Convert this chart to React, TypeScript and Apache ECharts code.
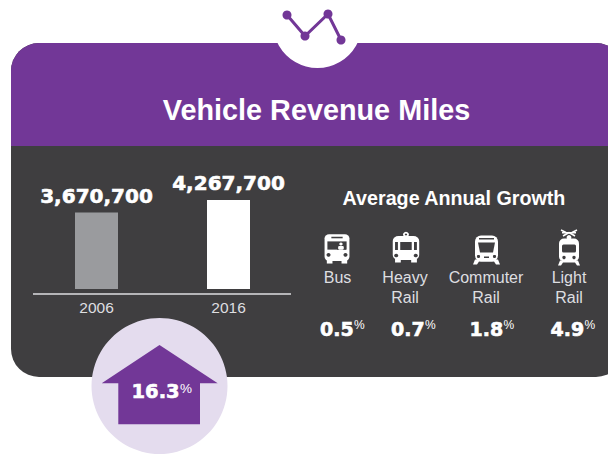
import React, { useEffect, useRef } from "react";
import * as echarts from "echarts";

const years = ["2006", "2016"];
const miles = [3670700, 4267700];
const barColors = ["#9a9b9e", "#ffffff"];
const modeLines = [["Bus"], ["Heavy", "Rail"], ["Commuter", "Rail"], ["Light", "Rail"]];
const growth = ["0.5", "0.7", "1.8", "4.9"];
const increase = "16.3";

const PURPLE = "#723797";
const DARK = "#3f3e40";
const LIGHT = "#dedee0";
const SANS = "'Liberation Sans', Arial, sans-serif";
const WIDE = "'DejaVu Sans', sans-serif";

const txt = (x: number, y: number, text: string, size: number, opts: any = {}) => ({
  type: "text", x, y, z: opts.z ?? 5,
  style: {
    text, fill: opts.fill ?? "#fff", fontSize: size, fontFamily: opts.family ?? SANS,
    fontWeight: opts.weight ?? "normal", align: opts.align ?? "center", verticalAlign: "middle",
    ...(opts.heavy ? { stroke: "#fff", lineWidth: opts.heavy } : {}),
  },
});
const r = (x: number, y: number, w: number, h: number, fill = "#fff", rad = 0) => ({
  type: "rect", shape: { x, y, width: w, height: h, r: rad }, style: { fill },
});
const c = (x: number, y: number, rad: number, fill = DARK) => ({
  type: "circle", shape: { cx: x, cy: y, r: rad }, style: { fill },
});
const poly = (points: number[][], fill = "#fff") => ({ type: "polygon", shape: { points }, style: { fill } });
const seg = (x1: number, y1: number, x2: number, y2: number, w = 1.5) => ({
  type: "line", shape: { x1, y1, x2, y2 }, style: { stroke: "#fff", lineWidth: w },
});

const busIcon = [
  r(9, 6, 22, 26, "#fff", 4), r(11, 31, 5, 3.5), r(24, 31, 5, 3.5),
  r(15, 8.5, 10, 1.5, DARK), r(11.5, 13, 17, 8, DARK), r(20, 15, 8, 6, DARK),
  c(23.5, 15.5, 1.5, "#fff"), r(21, 17.5, 5, 3.5, "#fff", 1), c(12.5, 26, 1.8), c(27.5, 26, 1.8),
];
const heavyIcon = [
  c(20.5, 6.5, 2.6, "#fff"), c(20.5, 6.5, 1, DARK), r(9, 8, 23, 24, "#fff", 5), r(11, 31, 5, 3.5), r(25, 31, 5, 3.5),
  r(11, 14, 2.5, 8, DARK), r(15.5, 14, 10, 8, DARK), r(27.5, 14, 2.5, 8, DARK), c(12, 27.5, 1.8), c(29, 27.5, 1.8),
];
const commuterIcon = [
  r(9, 7, 23, 26, "#fff", 6), poly([[9, 31], [32, 31], [34, 36], [30, 36], [28, 33], [13, 33], [11, 36], [7, 36]]),
  r(13, 9.5, 15, 1.5, DARK), poly([[12, 14], [29, 14], [27, 24], [14, 24]], DARK),
  c(12.5, 28, 1.6), c(28.5, 28, 1.6), r(18, 28, 5, 1.5, DARK),
];
const lightIcon = [
  seg(12, 2.5, 17, 5), seg(28, 2.5, 23, 5), r(13, 4.5, 14, 1.5), seg(14, 8.5, 20, 5), seg(26, 8.5, 20, 5),
  c(20, 10, 2.4, "#fff"), r(10, 11, 20, 23, "#fff", 5), poly([[11, 33], [29, 33], [31, 38], [28, 38], [26, 35], [14, 35], [12, 38], [9, 38]]),
  r(13, 17, 14, 8, DARK, 1.5), c(15, 30, 1.7), c(25, 30, 1.7),
];
const icons = [
  { x: 314.4, y: 228, scaleX: 1.13, scaleY: 1.03, children: busIcon },
  { x: 382.4, y: 228, scaleX: 1.15, scaleY: 1, children: heavyIcon },
  { x: 466, y: 228.5, scaleX: 1, scaleY: 1, children: commuterIcon },
  { x: 549, y: 227.5, scaleX: 1, scaleY: 1, children: lightIcon },
];
const modeCx = [337.5, 405, 486, 569];
const valueX = [320, 391, 469.5, 550.5];
const pctX = [354, 425, 503.5, 584.5];

export default function App() {
  const ref = useRef<HTMLDivElement>(null);
  useEffect(() => {
    const chart = echarts.init(ref.current!, undefined, { renderer: "svg" });
    const graphics: any[] = [
      { type: "rect", z: 0, shape: { x: 11, y: 43, width: 613, height: 334, r: 28 }, style: { fill: DARK } },
      { type: "rect", z: 0, shape: { x: 11, y: 43, width: 613, height: 103, r: [28, 28, 0, 0] }, style: { fill: PURPLE } },
      { type: "circle", z: 1, shape: { cx: 317.5, cy: 23.5, r: 44.5 }, style: { fill: "#fff" } },
      { type: "polyline", z: 2, shape: { points: [[287, 15], [305, 36], [328, 14], [341, 40]] }, style: { stroke: PURPLE, lineWidth: 3, fill: "none" } },
      { type: "circle", z: 2, shape: { cx: 287, cy: 15, r: 4.5 }, style: { fill: PURPLE } },
      { type: "circle", z: 2, shape: { cx: 305, cy: 36, r: 4.5 }, style: { fill: PURPLE } },
      { type: "circle", z: 2, shape: { cx: 328, cy: 14, r: 4.5 }, style: { fill: PURPLE } },
      { type: "circle", z: 2, shape: { cx: 341, cy: 40, r: 4.5 }, style: { fill: PURPLE } },
      txt(316.5, 110, "Vehicle Revenue Miles", 28.8, { weight: "bold" }),
      { type: "line", z: 2, shape: { x1: 33, y1: 294, x2: 291, y2: 294 }, style: { stroke: LIGHT, lineWidth: 1.5 } },
      txt(454, 198, "Average Annual Growth", 19.7, { weight: "bold" }),
      ...icons.map((ic) => ({ type: "group", x: ic.x, y: ic.y, scaleX: ic.scaleX, scaleY: ic.scaleY, z: 3, children: ic.children })),
      ...modeLines.flatMap((lines, i) =>
        lines.map((line, j) => txt(modeCx[i], 277.5 + j * 19.5, line, 16, { fill: LIGHT }))
      ),
      ...growth.flatMap((v, i) => [
        txt(valueX[i], 329, v, 19, { family: WIDE, weight: "bold", align: "left", heavy: 0.6 }),
        txt(pctX[i], 325, "%", 12, { align: "left" }),
      ]),
      { type: "circle", z: 6, shape: { cx: 159.5, cy: 386, r: 68 }, style: { fill: "#e4dcee" } },
      { type: "polygon", z: 7, shape: { points: [[159.5, 345], [217.7, 383.3], [200, 383.3], [200, 424.3], [118.3, 424.3], [118.3, 383.3], [101.7, 383.3]] }, style: { fill: PURPLE } },
      txt(131.5, 391, increase, 19.5, { family: WIDE, weight: "bold", align: "left", z: 8, heavy: 0.6 }),
      txt(180, 388, "%", 13.5, { align: "left", z: 8 }),
    ];
    chart.setOption({
      animation: false,
      grid: { left: 30.5, width: 264, top: 189, height: 100 },
      xAxis: {
        type: "category", data: years, offset: 5,
        axisLine: { show: false }, axisTick: { show: false },
        axisLabel: { color: LIGHT, fontSize: 15.5, fontFamily: SANS, margin: 5 },
      },
      yAxis: { type: "value", min: 0, max: 4800000, show: false, splitLine: { show: false } },
      graphic: { elements: graphics },
      series: [{
        type: "bar", barWidth: 43,
        data: miles.map((value, i) => ({ value, itemStyle: { color: barColors[i] } })),
        label: {
          show: true, position: "top", distance: 7, color: "#fff", fontFamily: WIDE,
          fontWeight: "bold", fontSize: 20, textBorderColor: "#fff", textBorderWidth: 0.6,
          formatter: (p: any) => Number(p.value).toLocaleString("en-US"),
        },
      }],
    });
    return () => chart.dispose();
  }, []);
  return <div ref={ref} style={{ position: "absolute", left: 0, top: 0, width: 608, height: 459, overflow: "hidden" }} />;
}
